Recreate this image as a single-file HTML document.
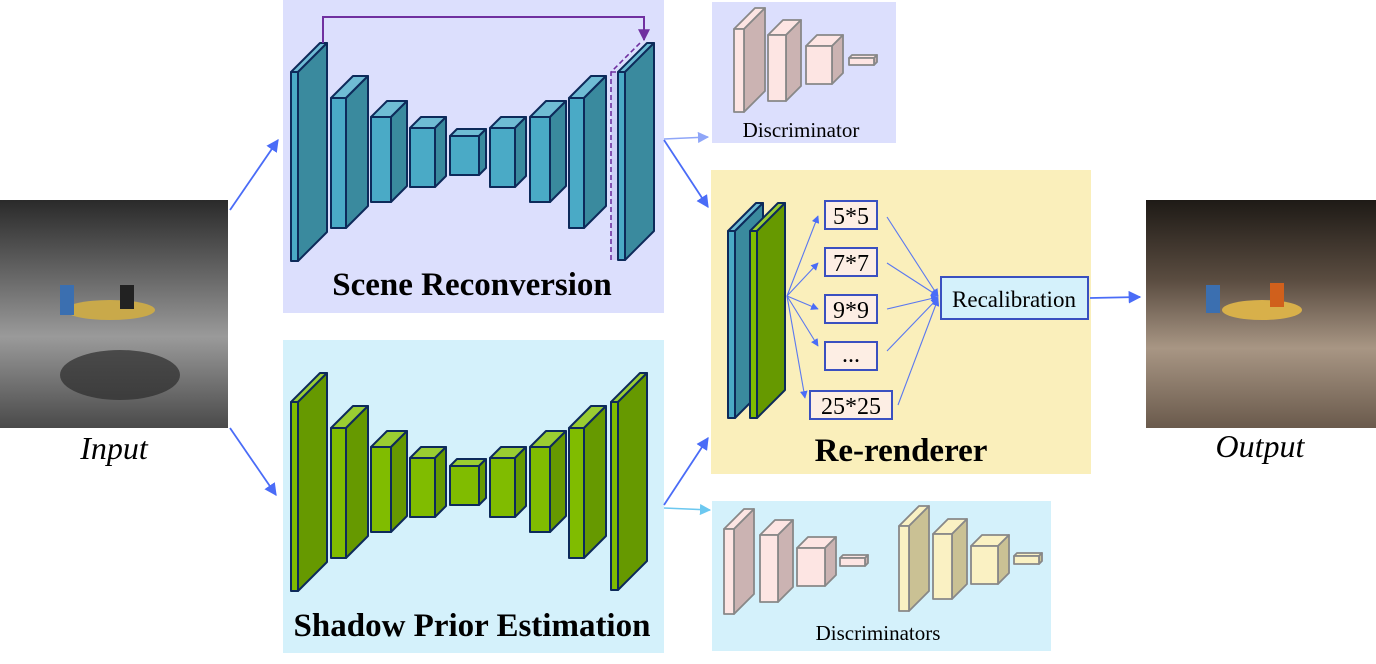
<!DOCTYPE html>
<html><head><meta charset="utf-8"><style>
html,body{margin:0;padding:0;background:#fff;}
svg{display:block;}
text{font-family:"Liberation Serif",serif;}
</style></head><body>
<svg width="1376" height="664" viewBox="0 0 1376 664" xmlns="http://www.w3.org/2000/svg">
<defs>
<marker id="ab" viewBox="0 0 10 10" refX="9" refY="5" markerWidth="7" markerHeight="7" orient="auto"><path d="M0,0L10,5L0,10z" fill="#4a6cf7"/></marker>
<marker id="ap" viewBox="0 0 10 10" refX="9" refY="5" markerWidth="6" markerHeight="6" orient="auto"><path d="M0,0L10,5L0,10z" fill="#7030a0"/></marker>
<marker id="al" viewBox="0 0 10 10" refX="9" refY="5" markerWidth="7" markerHeight="7" orient="auto"><path d="M0,0L10,5L0,10z" fill="#8fa6f8"/></marker>
<marker id="ac" viewBox="0 0 10 10" refX="9" refY="5" markerWidth="7" markerHeight="7" orient="auto"><path d="M0,0L10,5L0,10z" fill="#6cc8f0"/></marker>
<linearGradient id="gin" x1="0" y1="0" x2="0" y2="1"><stop offset="0" stop-color="#2a2a2a"/><stop offset="0.35" stop-color="#6a6a6a"/><stop offset="0.6" stop-color="#9a9a9a"/><stop offset="1" stop-color="#4a4a4a"/></linearGradient>
<linearGradient id="gout" x1="0" y1="0" x2="0" y2="1"><stop offset="0" stop-color="#1e1a16"/><stop offset="0.35" stop-color="#5a4c40"/><stop offset="0.65" stop-color="#a89684"/><stop offset="1" stop-color="#6a5a4c"/></linearGradient>
</defs>

<rect x="283" y="0" width="381" height="313" fill="#dcdffd"/>
<rect x="283" y="340" width="381" height="313" fill="#d4f1fb"/>
<rect x="712" y="2" width="184" height="141" fill="#dcdffd"/>
<rect x="711" y="170" width="380" height="304" fill="#faefbb"/>
<rect x="712" y="501" width="339" height="150" fill="#d4f1fb"/>

<rect x="0" y="200" width="228" height="228" fill="url(#gin)"/>
<ellipse cx="110" cy="310" rx="45" ry="10" fill="#c9a94a"/>
<rect x="60" y="285" width="14" height="30" fill="#3b6fb0"/>
<rect x="120" y="285" width="14" height="24" fill="#222"/>
<ellipse cx="120" cy="375" rx="60" ry="25" fill="#2c2c2c" opacity="0.7"/>
<rect x="1146" y="200" width="230" height="228" fill="url(#gout)"/>
<ellipse cx="1262" cy="310" rx="40" ry="10" fill="#d8b04a"/>
<rect x="1206" y="285" width="14" height="28" fill="#3b6fb0"/>
<rect x="1270" y="283" width="14" height="24" fill="#d0601c"/>

<text x="114" y="459" font-size="32" font-style="italic" text-anchor="middle">Input</text>
<text x="1260" y="457" font-size="32" font-style="italic" text-anchor="middle">Output</text>

<g stroke="#0d2a5a" stroke-width="2" stroke-linejoin="round">
<polygon points="291,72 320,43 327,43 298,72" fill="#6fbcd4"/><polygon points="298,72 327,43 327,232 298,261" fill="#3a8a9e"/><rect x="291" y="72" width="7" height="189" fill="#4aaac6"/>
<polygon points="331,98 353,76 368,76 346,98" fill="#6fbcd4"/><polygon points="346,98 368,76 368,206 346,228" fill="#3a8a9e"/><rect x="331" y="98" width="15" height="130" fill="#4aaac6"/>
<polygon points="371,117 387,101 407,101 391,117" fill="#6fbcd4"/><polygon points="391,117 407,101 407,186 391,202" fill="#3a8a9e"/><rect x="371" y="117" width="20" height="85" fill="#4aaac6"/>
<polygon points="410,128 421,117 446,117 435,128" fill="#6fbcd4"/><polygon points="435,128 446,117 446,176 435,187" fill="#3a8a9e"/><rect x="410" y="128" width="25" height="59" fill="#4aaac6"/>
<polygon points="450,136 457,129 486,129 479,136" fill="#6fbcd4"/><polygon points="479,136 486,129 486,168 479,175" fill="#3a8a9e"/><rect x="450" y="136" width="29" height="39" fill="#4aaac6"/>
<polygon points="490,128 501,117 526,117 515,128" fill="#6fbcd4"/><polygon points="515,128 526,117 526,176 515,187" fill="#3a8a9e"/><rect x="490" y="128" width="25" height="59" fill="#4aaac6"/>
<polygon points="530,117 546,101 566,101 550,117" fill="#6fbcd4"/><polygon points="550,117 566,101 566,186 550,202" fill="#3a8a9e"/><rect x="530" y="117" width="20" height="85" fill="#4aaac6"/>
<polygon points="569,98 591,76 606,76 584,98" fill="#6fbcd4"/><polygon points="584,98 606,76 606,206 584,228" fill="#3a8a9e"/><rect x="569" y="98" width="15" height="130" fill="#4aaac6"/>
<polygon points="618,72 647,43 654,43 625,72" fill="#6fbcd4"/><polygon points="625,72 654,43 654,231 625,260" fill="#3a8a9e"/><rect x="618" y="72" width="7" height="188" fill="#4aaac6"/>
</g>
<rect x="611" y="72" width="6" height="188" fill="#c8c4f4" opacity="0.6"/>
<path d="M611,260 V72 L640,43 M611,72 H617" fill="none" stroke="#7030a0" stroke-width="1.6" stroke-dasharray="5,3"/>
<path d="M323,43 V17 H644 V40" fill="none" stroke="#7030a0" stroke-width="2" marker-end="url(#ap)"/>
<text x="472" y="295" font-size="33" font-weight="bold" text-anchor="middle">Scene Reconversion</text>

<g stroke="#0d2a5a" stroke-width="2" stroke-linejoin="round" transform="translate(0,330)">
<polygon points="291,72 320,43 327,43 298,72" fill="#9acd32"/><polygon points="298,72 327,43 327,232 298,261" fill="#669900"/><rect x="291" y="72" width="7" height="189" fill="#80bc00"/>
<polygon points="331,98 353,76 368,76 346,98" fill="#9acd32"/><polygon points="346,98 368,76 368,206 346,228" fill="#669900"/><rect x="331" y="98" width="15" height="130" fill="#80bc00"/>
<polygon points="371,117 387,101 407,101 391,117" fill="#9acd32"/><polygon points="391,117 407,101 407,186 391,202" fill="#669900"/><rect x="371" y="117" width="20" height="85" fill="#80bc00"/>
<polygon points="410,128 421,117 446,117 435,128" fill="#9acd32"/><polygon points="435,128 446,117 446,176 435,187" fill="#669900"/><rect x="410" y="128" width="25" height="59" fill="#80bc00"/>
<polygon points="450,136 457,129 486,129 479,136" fill="#9acd32"/><polygon points="479,136 486,129 486,168 479,175" fill="#669900"/><rect x="450" y="136" width="29" height="39" fill="#80bc00"/>
<polygon points="490,128 501,117 526,117 515,128" fill="#9acd32"/><polygon points="515,128 526,117 526,176 515,187" fill="#669900"/><rect x="490" y="128" width="25" height="59" fill="#80bc00"/>
<polygon points="530,117 546,101 566,101 550,117" fill="#9acd32"/><polygon points="550,117 566,101 566,186 550,202" fill="#669900"/><rect x="530" y="117" width="20" height="85" fill="#80bc00"/>
<polygon points="569,98 591,76 606,76 584,98" fill="#9acd32"/><polygon points="584,98 606,76 606,206 584,228" fill="#669900"/><rect x="569" y="98" width="15" height="130" fill="#80bc00"/>
<polygon points="611,72 640,43 647,43 618,72" fill="#9acd32"/><polygon points="618,72 647,43 647,231 618,260" fill="#669900"/><rect x="611" y="72" width="7" height="188" fill="#80bc00"/>
</g>
<text x="472" y="636" font-size="33" font-weight="bold" text-anchor="middle">Shadow Prior Estimation</text>

<g stroke="#0d2a5a" stroke-width="2" stroke-linejoin="round">
<polygon points="728,231 756,203 763,203 735,231" fill="#6fbcd4"/><polygon points="735,231 763,203 763,390 735,418" fill="#3a8a9e"/><rect x="728" y="231" width="7" height="187" fill="#4aaac6"/>
<polygon points="750,231 778,203 785,203 757,231" fill="#9acd32"/><polygon points="757,231 785,203 785,390 757,418" fill="#669900"/><rect x="750" y="231" width="7" height="187" fill="#80bc00"/>
</g>
<g stroke="#5a78f0" stroke-width="1.1" fill="none" marker-end="url(#ab)">
<line x1="787" y1="296" x2="818" y2="216"/>
<line x1="787" y1="296" x2="818" y2="263"/>
<line x1="787" y1="296" x2="818" y2="309"/>
<line x1="787" y1="296" x2="818" y2="346"/>
<line x1="787" y1="296" x2="805" y2="398"/>
<line x1="887" y1="217" x2="938" y2="296"/>
<line x1="887" y1="263" x2="938" y2="296"/>
<line x1="887" y1="309" x2="938" y2="297"/>
<line x1="887" y1="351" x2="938" y2="298"/>
<line x1="898" y1="405" x2="938" y2="299"/>
</g>
<g fill="#fdeee4" stroke="#3a50c0" stroke-width="2">
<rect x="825" y="201" width="52" height="28"/>
<rect x="825" y="248" width="52" height="28"/>
<rect x="825" y="295" width="52" height="28"/>
<rect x="825" y="342" width="52" height="28"/>
<rect x="810" y="391" width="82" height="28"/>
<rect x="941" y="277" width="147" height="42" fill="#d4f1fb"/>
</g>
<g font-size="24" text-anchor="middle">
<text x="851" y="224">5*5</text>
<text x="851" y="271">7*7</text>
<text x="851" y="318">9*9</text>
<text x="851" y="362">...</text>
<text x="851" y="414">25*25</text>
<text x="1014" y="307" font-size="23">Recalibration</text>
</g>
<text x="901" y="461" font-size="33" font-weight="bold" text-anchor="middle">Re-renderer</text>

<g stroke="#888" stroke-width="1.8" stroke-linejoin="round">
<polygon points="734,29 755,8 765,8 744,29" fill="#fde5e3"/><polygon points="744,29 765,8 765,91 744,112" fill="#cbb3b2"/><rect x="734" y="29" width="10" height="83" fill="#fde5e3"/>
<polygon points="768,35 783,20 801,20 786,35" fill="#fde5e3"/><polygon points="786,35 801,20 801,86 786,101" fill="#cbb3b2"/><rect x="768" y="35" width="18" height="66" fill="#fde5e3"/>
<polygon points="806,46 817,35 843,35 832,46" fill="#fde5e3"/><polygon points="832,46 843,35 843,73 832,84" fill="#cbb3b2"/><rect x="806" y="46" width="26" height="38" fill="#fde5e3"/>
<polygon points="849,58 852,55 877,55 874,58" fill="#fde5e3"/><polygon points="874,58 877,55 877,62 874,65" fill="#cbb3b2"/><rect x="849" y="58" width="25" height="7" fill="#fde5e3"/>

<polygon points="724,529 744,509 754,509 734,529" fill="#fde5e3"/><polygon points="734,529 754,509 754,594 734,614" fill="#cbb3b2"/><rect x="724" y="529" width="10" height="85" fill="#fde5e3"/>
<polygon points="760,535 775,520 793,520 778,535" fill="#fde5e3"/><polygon points="778,535 793,520 793,587 778,602" fill="#cbb3b2"/><rect x="760" y="535" width="18" height="67" fill="#fde5e3"/>
<polygon points="797,548 808,537 836,537 825,548" fill="#fde5e3"/><polygon points="825,548 836,537 836,575 825,586" fill="#cbb3b2"/><rect x="797" y="548" width="28" height="38" fill="#fde5e3"/>
<polygon points="840,558 843,555 868,555 865,558" fill="#fde5e3"/><polygon points="865,558 868,555 868,563 865,566" fill="#cbb3b2"/><rect x="840" y="558" width="25" height="8" fill="#fde5e3"/>

<polygon points="899,526 919,506 929,506 909,526" fill="#faf1c3"/><polygon points="909,526 929,506 929,591 909,611" fill="#cac194"/><rect x="899" y="526" width="10" height="85" fill="#faf1c3"/>
<polygon points="933,534 948,519 967,519 952,534" fill="#faf1c3"/><polygon points="952,534 967,519 967,584 952,599" fill="#cac194"/><rect x="933" y="534" width="19" height="65" fill="#faf1c3"/>
<polygon points="971,546 982,535 1009,535 998,546" fill="#faf1c3"/><polygon points="998,546 1009,535 1009,573 998,584" fill="#cac194"/><rect x="971" y="546" width="27" height="38" fill="#faf1c3"/>
<polygon points="1014,556 1017,553 1042,553 1039,556" fill="#faf1c3"/><polygon points="1039,556 1042,553 1042,561 1039,564" fill="#cac194"/><rect x="1014" y="556" width="25" height="8" fill="#faf1c3"/>
</g>
<text x="801" y="137" font-size="21" text-anchor="middle">Discriminator</text>
<text x="878" y="640" font-size="21" text-anchor="middle">Discriminators</text>

<g stroke="#4a6cf7" stroke-width="1.8" fill="none" marker-end="url(#ab)">
<line x1="230" y1="210" x2="278" y2="140"/>
<line x1="230" y1="428" x2="276" y2="495"/>
<line x1="664" y1="140" x2="708" y2="207"/>
<line x1="664" y1="505" x2="708" y2="438"/>
<line x1="1090" y1="298" x2="1140" y2="297"/>
</g>
<line x1="664" y1="139" x2="708" y2="137" stroke="#8fa6f8" stroke-width="1.6" marker-end="url(#al)"/>
<line x1="664" y1="508" x2="710" y2="510" stroke="#6cc8f0" stroke-width="1.6" marker-end="url(#ac)"/>
</svg>
</body></html>
